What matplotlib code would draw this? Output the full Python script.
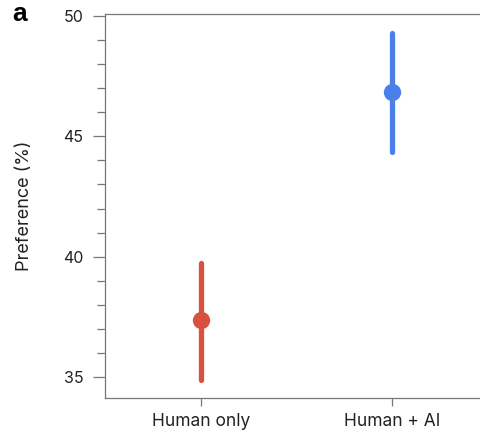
import numpy as np
import matplotlib
matplotlib.use('Agg')
import matplotlib.pyplot as plt
from matplotlib.ticker import MultipleLocator

plt.rcParams['font.family'] = ['Inter', 'DejaVu Sans']

groups = ['Human only', 'Human + AI']
pref   = [37.37, 46.86]
lo     = [34.88, 44.36]
hi     = [39.75, 49.31]
colors = ['#d8513f', '#4b80ea']

fig = plt.figure(figsize=(4.81, 4.36), dpi=100)
ax = fig.add_axes([0.2183, 0.0872, 0.7817, 0.8807])

x = np.arange(len(groups))
for i in range(len(groups)):
    ax.plot([x[i], x[i]], [lo[i], hi[i]], color=colors[i], lw=3.8,
            solid_capstyle='round', zorder=2)
    ax.plot(x[i], pref[i], 'o', color=colors[i], ms=12.5, mec='none', zorder=3)

ax.set_xlim(-0.503, 1.466)
ax.set_ylim(34.13, 50.08)
ax.set_xticks(x)
ax.set_xticklabels(groups, fontsize=12.5, color='#222222')
ax.yaxis.set_major_locator(MultipleLocator(5))
ax.yaxis.set_minor_locator(MultipleLocator(1))
ax.tick_params(axis='y', which='major', length=8.5, width=0.9, color='#777777',
               labelsize=11.5, labelcolor='#222222', pad=7)
ax.tick_params(axis='y', which='minor', length=6, width=0.9, color='#777777')
ax.tick_params(axis='x', length=6, width=0.9, color='#777777', pad=5)
ax.set_ylabel('Preference (%)', fontsize=13, color='#222222', labelpad=22)

ax.spines['right'].set_visible(False)
for s in ['left', 'bottom', 'top']:
    ax.spines[s].set_color('#777777')
    ax.spines[s].set_linewidth(0.9)

fig.text(0.025, 0.952, 'a', fontsize=19, fontweight='heavy', va='baseline', ha='left',
         family=['Liberation Sans', 'DejaVu Sans'])

fig.savefig('out.png', dpi=100)
